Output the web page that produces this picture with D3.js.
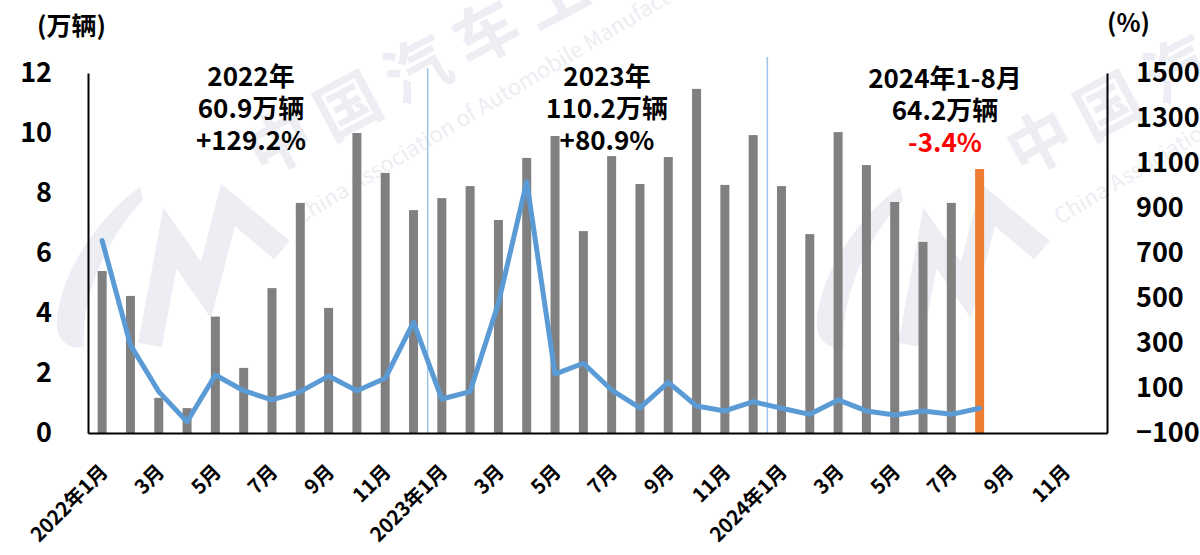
<!DOCTYPE html>
<html>
<head>
<meta charset="utf-8">
<script src="https://cdn.jsdelivr.net/npm/d3@7"></script>
<style>
body { margin: 0; background: #fff; }
text { font-family: "Microsoft YaHei", "Noto Sans CJK SC", sans-serif; font-weight: bold; }
</style>
</head>
<body>
<svg id="chart" width="1200" height="555"></svg>
<script>
// months on the x axis (only every other one gets a label)
var months = ["2022年1月","2月","3月","4月","5月","6月","7月","8月","9月","10月","11月","12月",
              "2023年1月","2月","3月","4月","5月","6月","7月","8月","9月","10月","11月","12月",
              "2024年1月","2月","3月","4月","5月","6月","7月","8月","9月","10月","11月","12月"];
// monthly sales, 万辆 (2022-01 .. 2024-08)
var sales = [5.40, 4.57, 1.17, 0.83, 3.88, 2.17, 4.83, 7.67, 4.17, 10.00, 8.67, 7.43,
             7.83, 8.23, 7.10, 9.17, 9.90, 6.73, 9.23, 8.30, 9.20, 11.47, 8.27, 9.93,
             8.23, 6.63, 10.03, 8.93, 7.70, 6.37, 7.67, 8.80];
// year-on-year growth, %
var growth = [755, 291, 84, -50, 158, 88, 47, 84, 153, 88, 143, 393,
              51, 84, 478, 1017, 162, 210, 91, 12, 125, 20, -2, 39,
              10, -17, 47, -2, -20, -2, -17, 10];
var leftTicks = [0, 2, 4, 6, 8, 10, 12];
var rightTicks = [-100, 100, 300, 500, 700, 900, 1100, 1300, 1500];
// yearly summary notes
var noteYears = ["2022年", "2023年", "2024年1-8月"];
var noteTotals = ["60.9万辆", "110.2万辆", "64.2万辆"];
var noteGrowth = ["+129.2%", "+80.9%", "-3.4%"];
var noteCenter = [251, 607, 945];

var margin = { top: 73, right: 93, bottom: 122, left: 88 },
    W = 1200, H = 555,
    width = W - margin.left - margin.right,
    height = H - margin.top - margin.bottom;

var svg = d3.select("#chart");
var fontFam = "\"Microsoft YaHei\", \"Noto Sans CJK SC\", sans-serif";

// ---- faint CAAM watermark ----
var wmColor = "#eceef3";
[0, 760].forEach(function (dx) {
    var g = svg.append("g").attr("transform", "translate(" + dx + ",0)");
    g.append("path")
        .attr("d", "M140,187 C100,215 62,270 57,318 C55,340 68,350 84,347 C80,300 105,240 143,200 Z")
        .attr("fill", wmColor);
    g.append("polyline")
        .attr("points", "150,345 170,238 206,290 228,205 282,250")
        .attr("fill", "none").attr("stroke", wmColor)
        .attr("stroke-width", 24).attr("stroke-linejoin", "miter");
    g.append("text")
        .attr("transform", "translate(262,178) rotate(-28)")
        .attr("font-size", 64).attr("letter-spacing", 14)
        .attr("fill", wmColor)
        .text("中国汽车工业协会");
    g.append("text")
        .attr("transform", "translate(300,225) rotate(-31)")
        .attr("font-size", 22).style("font-weight", "normal")
        .attr("fill", wmColor)
        .text("China Association of Automobile Manufacturers");
});

var chart = svg.append("g")
    .attr("transform", "translate(" + margin.left + "," + margin.top + ")");

var x = d3.scaleBand().domain(d3.range(months.length)).range([0, width]);
var yL = d3.scaleLinear().domain([0, 12]).range([height, 0]);
var yR = d3.scaleLinear().domain([-100, 1500]).range([height, 0]);
var cx = function (i) { return x(i) + x.bandwidth() / 2; };

// year separators
[12, 24].forEach(function (i, k) {
    chart.append("line")
        .attr("x1", x(i)).attr("x2", x(i))
        .attr("y1", k === 0 ? -5 : -16).attr("y2", height)
        .attr("stroke", "#9DC3E6").attr("stroke-width", 1.5);
});

// bars
var barW = 9;
chart.selectAll(".bar")
    .data(sales)
    .enter().append("rect")
    .attr("class", "bar")
    .attr("x", function (d, i) { return cx(i) - barW / 2; })
    .attr("width", barW)
    .attr("y", function (d) { return yL(d); })
    .attr("height", function (d) { return height - yL(d); })
    .attr("fill", function (d, i) { return i === sales.length - 1 ? "#ED7D31" : "#808080"; });

// growth line
var line = d3.line()
    .x(function (d, i) { return cx(i); })
    .y(function (d) { return yR(d); });
chart.append("path")
    .datum(growth)
    .attr("d", line)
    .attr("fill", "none")
    .attr("stroke", "#5B9BD5")
    .attr("stroke-width", 5)
    .attr("stroke-linejoin", "round")
    .attr("stroke-linecap", "round");

// axes
var axL = chart.append("g")
    .call(d3.axisLeft(yL).tickValues(leftTicks).tickSize(0).tickPadding(36));
axL.select(".domain").attr("stroke", "#000").attr("stroke-width", 2);
axL.selectAll("text").attr("font-size", 27).attr("fill", "#000").style("font-family", fontFam);

var axR = chart.append("g")
    .attr("transform", "translate(" + width + ",0)")
    .call(d3.axisRight(yR).tickValues(rightTicks).tickSize(0).tickPadding(29)
        .tickFormat(d3.format("d")));
axR.select(".domain").attr("stroke", "#000").attr("stroke-width", 2);
axR.selectAll("text").attr("font-size", 27).attr("fill", "#000").style("font-family", fontFam);

var axB = chart.append("g")
    .attr("transform", "translate(0," + height + ")")
    .call(d3.axisBottom(x).tickSize(0)
        .tickFormat(function (i) { return i % 2 === 0 ? months[i] : ""; }));
axB.select(".domain").attr("stroke", "#000").attr("stroke-width", 2);
axB.selectAll("text")
    .attr("font-size", 20).attr("fill", "#000")
    .style("font-family", fontFam)
    .attr("text-anchor", "end")
    .attr("x", 0).attr("y", 0).attr("dy", 0)
    .attr("transform", "translate(7,40) rotate(-45)");

// unit labels
svg.append("text").attr("x", 37).attr("y", 35).attr("font-size", 25).text("(万辆)");
svg.append("text").attr("x", 1107).attr("y", 32).attr("font-size", 25).text("(%)");

// yearly notes
noteYears.forEach(function (t, k) {
    var g = svg.append("g").attr("text-anchor", "middle").attr("font-size", 26);
    var dy = k === 2 ? 2 : 0;
    g.append("text").attr("x", noteCenter[k]).attr("y", 86 + dy).text(t);
    g.append("text").attr("x", noteCenter[k]).attr("y", 118 + dy).text(noteTotals[k]);
    g.append("text").attr("x", noteCenter[k]).attr("y", 150 + dy)
        .attr("fill", noteGrowth[k].charAt(0) === "-" ? "#FF0000" : "#000")
        .text(noteGrowth[k]);
});
</script>
</body>
</html>
